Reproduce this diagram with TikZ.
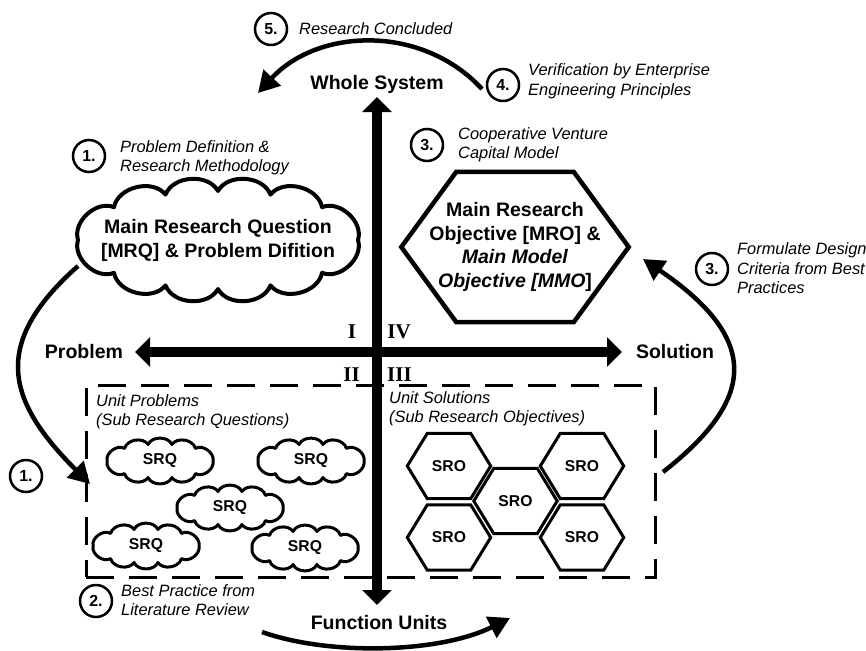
\documentclass[tikz,border=0pt]{standalone}
\usepackage{fontspec}
\setmainfont{Liberation Sans}
\newfontfamily\numeralfont{Liberation Serif}
\usetikzlibrary{arrows.meta}

% six-sided outline around a (rectangular, invisible) node
\newcommand{\hexoutline}[3]{%
  \draw[line width=#3] (#1.west) -- ([xshift=#2]#1.north west) -- ([xshift=-#2]#1.north east)
    -- (#1.east) -- ([xshift=-#2]#1.south east) -- ([xshift=#2]#1.south west) -- cycle;}

% cloud outline: puffs between points of an ellipse (half axes #2, #3) around node #1,
% at the angles listed in #4; #5 = line width
\newcommand{\cloudoutline}[5]{%
  \begin{scope}[shift={(#1.center)}]
    \draw[line width=#5, line cap=round, line join=round]
      (0:#2 and #3) foreach \t in {#4} { to[bend left=65] (\t:#2 and #3) };
  \end{scope}}

\tikzset{
  axis/.style={line width=10pt, {Triangle[width=29pt,length=15pt]}-{Triangle[width=29pt,length=15pt]}},
  flow/.style={line width=4.5pt, -{Triangle[width=23pt,length=21pt]}},
  axislabel/.style={font=\fontsize{19.5}{24}\selectfont\bfseries, inner sep=0},
  note/.style={font=\fontsize{16.4}{19.5}\selectfont\itshape, align=left, anchor=west, inner sep=0},
  stepcircle/.style={circle, draw, line width=2.5pt, minimum size=32pt, inner sep=0,
    font=\fontsize{16}{16}\selectfont\bfseries},
  quadrant/.style={font=\fontsize{21}{21}\selectfont\numeralfont\bfseries, inner sep=0},
  bigtext/.style={inner sep=0, align=center, font=\fontsize{19.5}{24}\selectfont\bfseries},
  smalltext/.style={inner sep=0, font=\fontsize{15.7}{16}\selectfont\bfseries},
  bighex/.style={inner sep=0, align=center, minimum width=227pt, minimum height=150pt,
    font=\fontsize{19.5}{23.5}\selectfont\bfseries},
  smallhex/.style={inner sep=0, minimum width=83pt, minimum height=65pt,
    font=\fontsize{15.7}{16}\selectfont\bfseries},
  unitframe/.style={draw, line width=3pt, dash pattern=on 28pt off 15pt, inner sep=0},
}

\begin{document}
\begin{tikzpicture}[x=1pt,y=-1pt]
\useasboundingbox (0,0) rectangle (866,650);

% dashed frame around the unit level
\node[unitframe, minimum width=569pt, minimum height=192pt] (units) at (370.5,481) {};

% main research question
\node[bigtext] (mrq) at (218,240) {Main Research Question\\\relax [MRQ] \& Problem Difition};
\cloudoutline{mrq}{140}{49}{42,68,90,112,138,180,222,248,270,292,318,360}{4pt}

% main research objective
\node[bighex] (mro) at (515,247) {Main Research\\Objective [MRO] \&\\\textit{Main Model}\\\textit{Objective [MMO}]};
\hexoutline{mro}{55pt}{4.5pt}

% sub research questions
\node[smalltext] (srq1) at (160,461) {SRQ};
\node[smalltext] (srq2) at (311,461) {SRQ};
\node[smalltext] (srq3) at (230,508) {SRQ};
\node[smalltext] (srq4) at (146,546) {SRQ};
\node[smalltext] (srq5) at (305,548) {SRQ};
\foreach \c in {srq1,srq2,srq3,srq4,srq5} {%
  \cloudoutline{\c}{53}{17}{48,77,103,132,180,228,257,283,312,360}{3pt}}

% sub research objectives
\node[smallhex] (sro1) at (449,466) {SRO};
\node[smallhex] (sro2) at (449,537.5) {SRO};
\node[smallhex] (sro3) at (515.5,501) {SRO};
\node[smallhex] (sro4) at (582,466) {SRO};
\node[smallhex] (sro5) at (582,537.5) {SRO};
\foreach \h in {sro1,sro2,sro3,sro4,sro5} {\hexoutline{\h}{20pt}{3pt}}

% axes
\node[axislabel] (whole) at (377,84) {Whole System};
\node[axislabel] (func) at (379,623) {Function Units};
\node[axislabel] (prob) at (84,352) {Problem};
\node[axislabel] (sol) at (675,352) {Solution};
\coordinate (ytop) at (377,97);
\coordinate (ybot) at (377,605);
\coordinate (xleft) at (135,352);
\coordinate (xright) at (622,352);
\draw[axis] (ybot) -- (ytop);
\draw[axis] (xleft) -- (xright);

% quadrant numerals
\node[quadrant] (q1) at (352,331.5) {I};
\node[quadrant] (q4) at (399,331.5) {IV};
\node[quadrant] (q2) at (351.5,374.5) {II};
\node[quadrant] (q3) at (399.5,374.5) {III};

% step markers and notes
\node[stepcircle] (n5) at (271,29) {5.};
\node[note] (t5) at (299,29) {Research Concluded};
\node[stepcircle] (n1a) at (89,156) {1.};
\node[note] (t1a) at (120,158) {Problem Definition \&\\Research Methodology};
\node[stepcircle] (n3a) at (427,145) {3.};
\node[note] (t3a) at (458,145) {Cooperative Venture\\Capital Model};
\node[stepcircle] (n4) at (503,85) {4.};
\node[note] (t4) at (528,81.5) {Verification by Enterprise\\Engineering Principles};
\node[stepcircle] (n3b) at (712,269) {3.};
\node[note] (t3b) at (737,268.5) {Formulate Design\\Criteria from Best\\Practices};
\node[stepcircle] (n1b) at (26,476) {1.};
\node[stepcircle] (n2) at (96,601) {2.};
\node[note] (t2) at (121,600) {Best Practice from\\Literature Review};
\node[note] (tup) at (96,412) {Unit Problems\\(Sub Research Questions)};
\node[note] (tus) at (389,409) {Unit Solutions\\(Sub Research Objectives)};

% research cycle
\coordinate (a5s) at (482,89);
\coordinate (a5e) at (258,93);
\draw[flow] (a5s) .. controls (422,24) and (318,28) .. (a5e);
\coordinate (a1s) at (78,266);
\coordinate (a1e) at (90,484);
\draw[flow] (a1s) .. controls (-10,344) and (7,401) .. (a1e);
\coordinate (a3s) at (663,472);
\coordinate (a3e) at (643,259);
\draw[flow] (a3s) .. controls (755,400) and (762,340) .. (a3e);
\coordinate (a2s) at (262,632);
\coordinate (a2e) at (510,618);
\draw[flow] (a2s) .. controls (330,656) and (440,653) .. (a2e);
\end{tikzpicture}
\end{document}
